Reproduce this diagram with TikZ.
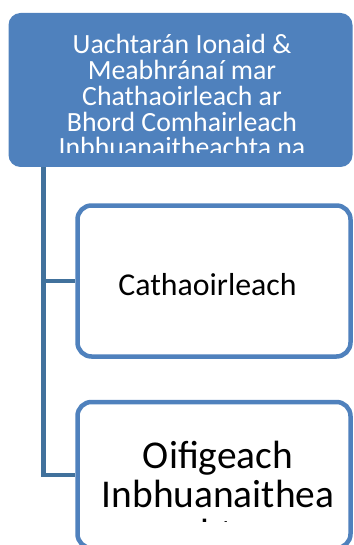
\documentclass[tikz,border=0pt]{standalone}
\usepackage{fontspec}
\setmainfont{Carlito}
\usepackage{tikz}
\usetikzlibrary{positioning}
\definecolor{boxblue}{HTML}{4F81BD}
\definecolor{lineblue}{HTML}{41719C}

\begin{document}
\begin{tikzpicture}[x=1pt, y=-1pt,
    head/.style = {fill=boxblue, rounded corners=12pt, minimum width=344pt, minimum height=154pt, inner sep=0pt},
    member/.style = {draw=boxblue, line width=4.5pt, fill=white, rounded corners=14pt, minimum width=273pt, inner sep=0pt},
    conn/.style = {draw=lineblue, line width=4.5pt}]
    \useasboundingbox (0,0) rectangle (353,545);
    \node[head] (head) at (180.5,90) {};
    \node[member, minimum height=151pt] (chair) at (214,281) {};
    \node[member, minimum height=146pt] (officer) at (214,475) {};
    \coordinate (spine) at ([xshift=35pt]head.south west);
    % connectors
    \draw[conn] (spine) |- (chair.west);
    \draw[conn] (spine) |- (officer.west);
    % texts, cut off at the bottom as in the original
    \begin{scope}
        \clip (head.north west) rectangle (353,153);
        \node[anchor=base, align=center, text=white, inner sep=0pt,
            font=\fontsize{27.8}{25.7}\selectfont] (headtext) at (182,156.8)
            {Uachtarán Ionaid \&\\Meabhránaí mar\\Chathaoirleach ar\\Bhord Comhairleach\\Inbhuanaitheachta na};
    \end{scope}
    \node[anchor=base, inner sep=0pt, font=\fontsize{31.8}{36}\selectfont] (chairtext) at (207.5,295) {Cathaoirleach};
    \begin{scope}
        \clip (officer.north west) rectangle (353,521);
        \node[anchor=base, align=center, inner sep=0pt,
            font=\fontsize{39.4}{39}\selectfont] (officertext) at (218,546)
            {Oifigeach\\Inbhuanaithea\\chta};
    \end{scope}
\end{tikzpicture}
\end{document}
